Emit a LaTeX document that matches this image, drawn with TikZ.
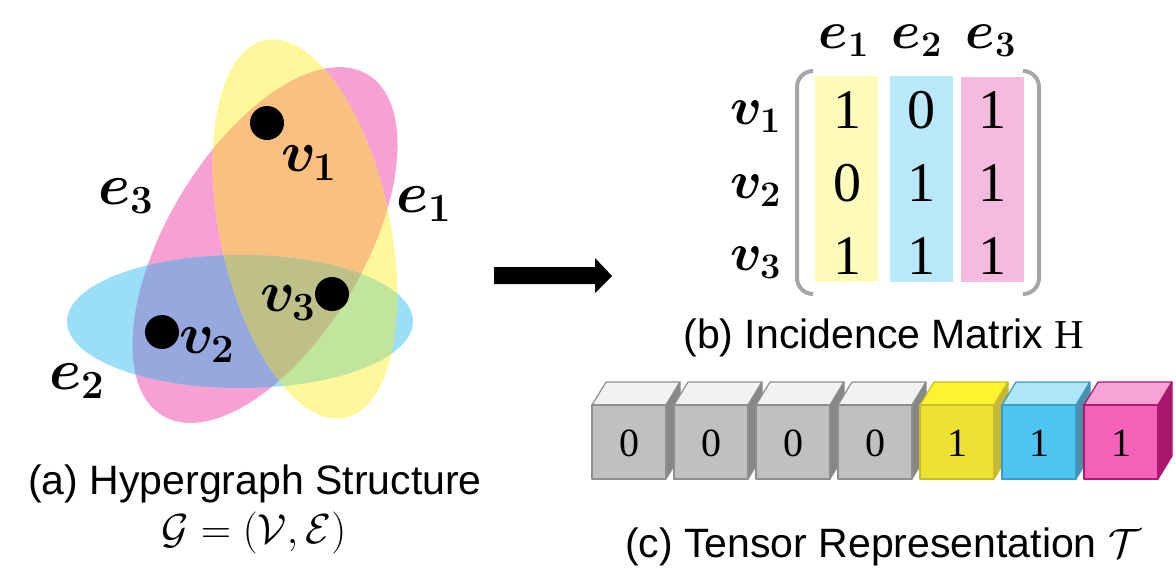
\RequirePackage{fix-cm}
\documentclass[tikz,border=0pt]{standalone}
\usepackage{amsmath}
\usepackage{bm}
\usepackage{fontspec}
\newfontfamily\arialf{Liberation Sans}
\newfontfamily\timesf{Liberation Serif}
\newcommand\subd[1]{_{\mbox{\fontsize{40}{40}\selectfont\bfseries #1}}}
\newcommand\subm[1]{_{\mbox{\fontsize{36}{36}\selectfont\bfseries #1}}}
\definecolor{cY}{HTML}{FFF799}
\definecolor{cP}{HTML}{F7A0D2}
\definecolor{cO}{HTML}{F9C080}
\definecolor{cB}{HTML}{9ADEF7}
\definecolor{cPu}{HTML}{96A8DE}
\definecolor{cG}{HTML}{C1E59A}
\definecolor{cOl}{HTML}{BEC088}
\definecolor{mY}{HTML}{FFFBBA}
\definecolor{mB}{HTML}{B8E8FA}
\definecolor{mP}{HTML}{F6BADF}
\definecolor{brk}{HTML}{A6A6A6}
\definecolor{gF}{HTML}{C0C0C0}
\definecolor{gT}{HTML}{F2F2F2}
\definecolor{gR}{HTML}{878787}
\definecolor{gE}{HTML}{8E8E8E}
\definecolor{yF}{HTML}{EDE231}
\definecolor{yT}{HTML}{FFF330}
\definecolor{yR}{HTML}{C2B93B}
\definecolor{yE}{HTML}{C9BC2A}
\definecolor{bF}{HTML}{4FC4F0}
\definecolor{bT}{HTML}{AEE6F9}
\definecolor{bR}{HTML}{4E8FA8}
\definecolor{bE}{HTML}{3A9AC9}
\definecolor{pF}{HTML}{F562B9}
\definecolor{pT}{HTML}{F7A3D3}
\definecolor{pR}{HTML}{A8176B}
\definecolor{pE}{HTML}{B0176F}
\newcommand\pathY{(305,229) ellipse [x radius=85pt, y radius=193pt]}
\newcommand\pathP{(265,245) ellipse [x radius=98pt, y radius=199pt]}
\newcommand\pathB{(240,321.5) ellipse [x radius=173pt, y radius=66.5pt]}
\begin{document}
\begin{tikzpicture}[x=1pt,y=-1pt,
  eY/.style={rotate around={12:(305,229)}},
  eP/.style={rotate around={-31:(265,245)}},
  dot/.style={circle, fill=black, minimum size=34pt, inner sep=0pt},
  hlab/.style={inner sep=0pt, font=\fontsize{58}{64}\selectfont},
  mlab/.style={inner sep=0pt, font=\fontsize{53}{60}\selectfont},
  mnum/.style={inner sep=0pt, font=\timesf\fontsize{56}{64}\selectfont},
  cnum/.style={inner sep=0pt, font=\timesf\fontsize{40}{44}\selectfont},
  captext/.style={anchor=base, inner sep=0pt, font=\arialf\fontsize{41}{48}\selectfont},
  bracket/.style={draw=brk, line width=4pt, rounded corners=16pt},
  cubeedge/.style={line width=1.2pt, line join=round}]
\useasboundingbox (0,0) rectangle (1176,571);
% hypergraph regions
\fill[cP,eP] \pathP;
\fill[cY,eY] \pathY;
\begin{scope}
  \clip[eP] \pathP;
  \fill[cO,eY] \pathY;
\end{scope}
\fill[cB] \pathB;
\begin{scope}
  \clip \pathB;
  \fill[cPu,eP] \pathP;
  \fill[cG,eY] \pathY;
  \clip[eP] \pathP;
  \fill[cOl,eY] \pathY;
\end{scope}
% vertices
\node[dot] (v1) at (267,123) {};
\node[dot] (v3) at (332,294) {};
\node[dot] (v2) at (162,332) {};
\node[hlab] (lv1) at (309,163) {$\bm{v}\subd{1}$};
\node[hlab] (lv3) at (288,303) {$\bm{v}\subd{3}$};
\node[hlab] (lv2) at (207,345) {$\bm{v}\subd{2}$};
\node[hlab] (le3) at (126,196) {$\bm{e}\subd{3}$};
\node[hlab] (le1) at (424,204) {$\bm{e}\subd{1}$};
\node[hlab] (le2) at (77,381) {$\bm{e}\subd{2}$};
% arrow
\fill[black] (494,267) -- (595,267) -- (595,258) -- (612,276) -- (595,293) -- (595,284) -- (494,284) -- cycle;
% matrix
\fill[mY] (815,76) rectangle (878,282);
\fill[mB] (890,76) rectangle (953,282);
\fill[mP] (961,77) rectangle (1024,282);
\draw[bracket] (813,71) -- (797,71) -- (797,294) -- (813,294);
\draw[bracket] (1023,71) -- (1039,71) -- (1039,294) -- (1023,294);
\node[mlab] (me1) at (844,41) {$\bm{e}\subm{1}$};
\node[mlab] (me2) at (917,41) {$\bm{e}\subm{2}$};
\node[mlab] (me3) at (991,41) {$\bm{e}\subm{3}$};
\node[mlab] (mv1) at (756,117) {$\bm{v}\subm{1}$};
\node[mlab] (mv2) at (756,191) {$\bm{v}\subm{2}$};
\node[mlab] (mv3) at (756,263) {$\bm{v}\subm{3}$};
\node[mnum] (m11) at (847,110) {1};
\node[mnum] (m12) at (921,110) {0};
\node[mnum] (m13) at (992,110) {1};
\node[mnum] (m21) at (847,183) {0};
\node[mnum] (m22) at (921,183) {1};
\node[mnum] (m23) at (992,183) {1};
\node[mnum] (m31) at (847,256) {1};
\node[mnum] (m32) at (921,256) {1};
\node[mnum] (m33) at (992,256) {1};
% cubes
\foreach \i/\cf/\ct/\cr/\ce/\n in {0/gF/gT/gR/gE/0, 1/gF/gT/gR/gE/0, 2/gF/gT/gR/gE/0, 3/gF/gT/gR/gE/0, 4/yF/yT/yR/yE/1, 5/bF/bT/bR/bE/1, 6/pF/pT/pR/pE/1}{
  \pgfmathsetmacro\xo{592+82*\i}
  \filldraw[cubeedge, fill=\ct, draw=\ce] (\xo,405) -- ++(14,-23) -- ++(74,0) -- ++(-14,23) -- cycle;
  \filldraw[cubeedge, fill=\cr, draw=\ce] (\xo+74,405) -- ++(14,-23) -- ++(0,74) -- ++(-14,23) -- cycle;
  \filldraw[cubeedge, fill=\cf, draw=\ce] (\xo,405) rectangle ++(74,74);
  \node[cnum] (c\i) at (\xo+37,443) {\n};
}
% captions
\node[captext] (capa) at (255,494) {(a) Hypergraph Structure};
\node[anchor=base, inner sep=0pt, font=\fontsize{42}{48}\selectfont] (capg) at (254,543) {$\mathcal{G}=(\mathcal{V},\mathcal{E})$};
\node[captext] (capb) at (884,348) {(b) Incidence Matrix {\timesf H}};
\node[captext] (capc) at (883,557) {(c) Tensor Representation $\mathcal{T}$};
\end{tikzpicture}
\end{document}
